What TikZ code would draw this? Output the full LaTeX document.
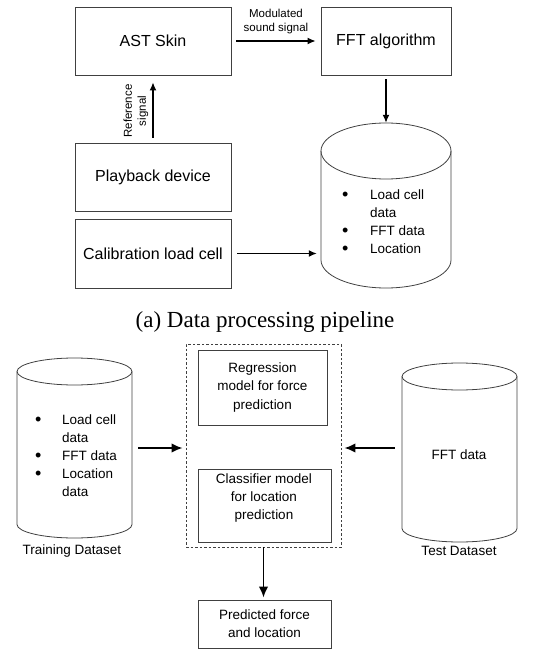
\documentclass[tikz,border=0pt]{standalone}
\usepackage{fontspec}
\setmainfont{Liberation Serif}
\setsansfont{Liberation Sans}
\usetikzlibrary{arrows.meta}
\newcommand\blt{\raisebox{-0.8pt}{\fontsize{18}{18}\selectfont •}}

\begin{document}
\begin{tikzpicture}[
  x=1pt, y=-1pt,
  blk/.style={draw=black!75, line width=0.8pt, inner sep=0pt, align=center, font=\sffamily\fontsize{16}{19}\selectfont},
  blks/.style={blk, font=\sffamily\fontsize{13.5}{18.3}\selectfont},
  sml/.style={font=\sffamily\fontsize{13.5}{18}\selectfont, align=center, inner sep=0pt},
  note/.style={font=\sffamily\fontsize{11.5}{14}\selectfont, align=center, inner sep=0pt},
  arr/.style={-{Latex[length=8pt,width=7pt]}, line width=1.4pt},
  arrb/.style={-{Latex[length=11pt,width=9.5pt]}, line width=1.9pt},
  drum/.style={draw=black!75, line width=0.8pt}
]
\useasboundingbox (0,0) rectangle (555,652);
% data processing pipeline
\node[blk, minimum width=156, minimum height=68] (ast) at (153,41) {AST Skin};
\node[blk, minimum width=130, minimum height=68] (fft) at (386,41) {FFT algorithm};
\node[blk, minimum width=156, minimum height=68] (play) at (153,177) {Playback device};
\node[blk, minimum width=156, minimum height=69] (calib) at (153,253.5) {Calibration load cell};
\foreach \n/\xa/\xb/\ya/\yb/\r in {db/321/451/123/288/28, train/17/132/358/538/13.5, test/402/517/363/542/13.5} {
  \node[minimum width=\xb-\xa, minimum height=\yb-\ya, inner sep=0pt] (\n) at ({(\xa+\xb)/2},{(\ya+\yb)/2}) {};
  \draw[drum] ({(\xa+\xb)/2},{\ya+\r}) ellipse [x radius={(\xb-\xa)/2}, y radius=\r];
  \draw[drum] (\xa,{\ya+\r}) -- (\xa,{\yb-\r}) arc[start angle=180, end angle=0, x radius={(\xb-\xa)/2}, y radius=\r] -- (\xb,{\ya+\r});
}
\node[sml, anchor=north west, align=left] (dbtxt) at (341.9,186.6)
  {\begin{tabular}{@{}l@{\hspace{21.8pt}}l@{}}\blt & Load cell\\ & data\\ \blt & FFT data\\ \blt & Location\end{tabular}};
\node[note] (modl) at (276,22) {Modulated\\sound signal};
\node[note, rotate=90] (refl) at (136,111) {Reference\\signal};
\draw[arr, shorten <=5pt, shorten >=5pt] (ast) -- (fft);
\draw[arr, shorten <=5pt, shorten >=7pt] (play) -- (ast);
\draw[arr, shorten <=4pt] (fft) -- (db);
\draw[arr, shorten <=6pt, shorten >=4pt] (calib) -- (calib -| db.west);
\node[font=\fontsize{23}{27}\selectfont, inner sep=0pt] (capa) at (265,322) {(a) Data processing pipeline};
% training and testing
\node[draw=black!75, line width=0.7pt, dash pattern=on 2.5pt off 2pt, minimum width=155, minimum height=203] (pipe) at (263.5,445.5) {};
\node[blks, minimum width=129, minimum height=75] (reg) at (262.5,387.5) {Regression\\model for force\\prediction};
\node[blks, minimum width=133, minimum height=73] (cls) at (264.5,505.5) {};
\node[sml] (clst) at (264,498) {Classifier model\\for location\\prediction};
\node[blks, minimum width=133, minimum height=48] (pred) at (264.5,624) {Predicted force\\and location};
\node[sml, anchor=north west, align=left] (traintxt) at (34.9,411.6)
  {\begin{tabular}{@{}l@{\hspace{20.8pt}}l@{}}\blt & Load cell\\ & data\\ \blt & FFT data\\ \blt & Location\\ & data\end{tabular}};
\node[sml] (testt) at (459,455) {FFT data};
\node[sml] (trainl) at (72,551) {Training Dataset};
\node[sml] (testl) at (459,551) {Test Dataset};
\draw[arrb, shorten <=6pt, shorten >=3pt] (train.east) -- (train.east -| pipe.west);
\draw[arrb, shorten <=7pt, shorten >=3pt] ([yshift=4.5pt]test.west) -- ([yshift=4.5pt]test.west -| pipe.east);
\draw[arrb, shorten >=2pt] (pipe.south) -- (pipe.south |- pred.north);
\end{tikzpicture}
\end{document}
